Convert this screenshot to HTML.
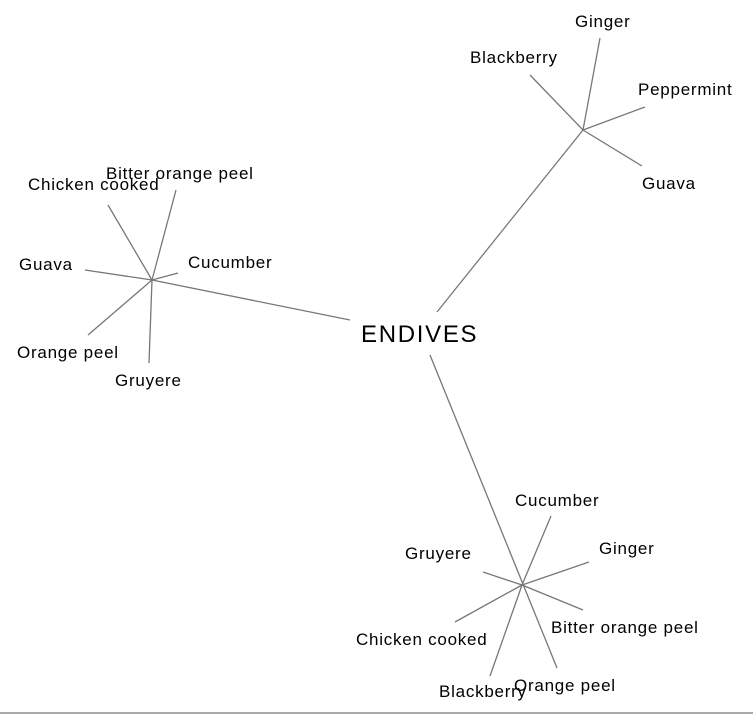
<!DOCTYPE html>
<html><head><meta charset="utf-8"><style>
html,body{margin:0;padding:0;background:#fff;width:753px;height:715px;overflow:hidden}
svg{display:block}
text{font-family:"Liberation Sans",Arial,sans-serif;font-size:17px;letter-spacing:0.75px;fill:#000}
line{stroke:#777;stroke-width:1.3}
</style></head><body>
<svg width="753" height="715" viewBox="0 0 753 715">
<line x1="437" y1="312" x2="583" y2="130"/>
<line x1="583" y1="130" x2="600" y2="38"/>
<line x1="583" y1="130" x2="530" y2="75"/>
<line x1="583" y1="130" x2="645" y2="107"/>
<line x1="583" y1="130" x2="642" y2="166"/>
<line x1="350" y1="320" x2="152" y2="280"/>
<line x1="152" y1="280" x2="108" y2="205"/>
<line x1="152" y1="280" x2="176" y2="190"/>
<line x1="152" y1="280" x2="178" y2="273"/>
<line x1="152" y1="280" x2="85" y2="270"/>
<line x1="152" y1="280" x2="88" y2="335"/>
<line x1="152" y1="280" x2="149" y2="363"/>
<line x1="430" y1="355" x2="557" y2="668"/>
<line x1="522" y1="585" x2="551" y2="516"/>
<line x1="522" y1="585" x2="589" y2="562"/>
<line x1="522" y1="585" x2="583" y2="610"/>
<line x1="522" y1="585" x2="490" y2="676"/>
<line x1="522" y1="585" x2="455" y2="622"/>
<line x1="522" y1="585" x2="483" y2="572"/>
<text x="361" y="342" style="font-size:24px;letter-spacing:1.7px">ENDIVES</text>
<text x="575" y="27">Ginger</text>
<text x="470" y="63">Blackberry</text>
<text x="638" y="95">Peppermint</text>
<text x="642" y="189">Guava</text>
<text x="106" y="179">Bitter orange peel</text>
<text x="28" y="190">Chicken cooked</text>
<text x="188" y="268">Cucumber</text>
<text x="19" y="270">Guava</text>
<text x="17" y="358">Orange peel</text>
<text x="115" y="386">Gruyere</text>
<text x="515" y="506">Cucumber</text>
<text x="599" y="554">Ginger</text>
<text x="405" y="559">Gruyere</text>
<text x="551" y="633">Bitter orange peel</text>
<text x="356" y="645">Chicken cooked</text>
<text x="514" y="691">Orange peel</text>
<text x="439" y="697">Blackberry</text>
<rect x="0" y="712" width="753" height="2" fill="#aaa"/>
</svg>
</body></html>
